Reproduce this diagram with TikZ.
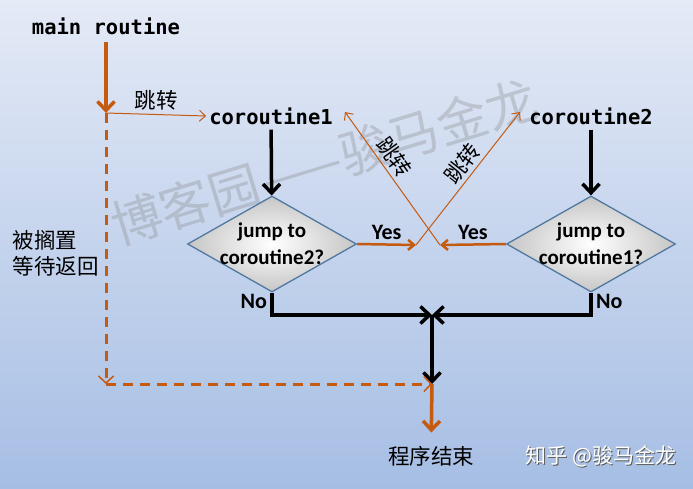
\documentclass[tikz,border=0pt]{standalone}
\usepackage{fontspec}
\setmainfont{Carlito}
\newfontfamily\cjk{Noto Sans CJK SC}
\newfontfamily\monob{DejaVu Sans Mono}
\usetikzlibrary{arrows.meta}
\usetikzlibrary{positioning}
\usetikzlibrary{shapes.geometric}
\usetikzlibrary{calc}

\definecolor{jumporange}{RGB}{197,90,17}
\definecolor{diamondedge}{RGB}{80,120,160}
\definecolor{bgtop}{RGB}{228,234,246}
\definecolor{bgbottom}{RGB}{166,190,228}

\tikzset{
    routine/.style={font=\monob\bfseries\fontsize{20.5}{22}\selectfont, inner sep=3pt},
    decision/.style={diamond, draw=diamondedge, line width=1.3pt,
        inner color=white, outer color=gray!45, aspect=1.76,
        minimum width=169pt, minimum height=96pt, inner sep=-10pt,
        font=\bfseries\fontsize{21}{27}\selectfont, align=center},
    answer/.style={font=\bfseries\fontsize{22}{22}\selectfont},
    hanzi/.style={font=\cjk\fontsize{21.5}{26}\selectfont},
    flow/.style={line width=3.5pt, -{Straight Barb[length=9pt,width=17pt]}},
    mainflow/.style={flow, draw=jumporange},
    yesflow/.style={line width=2.5pt, draw=jumporange, -{Straight Barb[length=6pt,width=10pt]}},
    jumpline/.style={line width=1pt, draw=jumporange, -{Straight Barb[length=6pt,width=11pt]}},
    waitflow/.style={line width=3pt, draw=jumporange, dash pattern=on 10pt off 7pt,
        -{Straight Barb[length=7pt,width=15pt,line width=1.5pt]}},
}

\begin{document}
\begin{tikzpicture}[x=1pt, y=-1pt]

    \shade[top color=bgtop, bottom color=bgbottom] (0,0) rectangle (693,488);
    \useasboundingbox (0,0) rectangle (693,488);

    % watermarks
    \node[font=\cjk\fontsize{51}{51}\selectfont, text=gray, opacity=0.3, rotate=17] (mark) at (324,162) {博客园——骏马金龙};
    \node[font=\cjk\fontsize{21}{21}\selectfont, text=gray!70!black] (creditshadow) at (602,457) {知乎 @骏马金龙};
    \node[font=\cjk\fontsize{21}{21}\selectfont, text=white] (credit) at (601,456) {知乎 @骏马金龙};

    \node[routine] (main) at (106,26) {main routine};
    \node[routine] (co1)  at (271,116) {coroutine1};
    \node[routine] (co2)  at (591,116) {coroutine2};

    \node[decision] (ask1) at (272,244) {jump to\\coroutine2?};
    \node[decision] (ask2) at (591,244) {jump to\\coroutine1?};

    \node[hanzi] (done) at (431,456) {程序结束};
    \node[hanzi, align=left, anchor=west] (parked) at (9,253) {被搁置\\等待返回};

    \coordinate (fork) at (106,113);
    \coordinate (wait) at (106,384);
    \coordinate (yes1) at (416,245);
    \coordinate (yes2) at (440,245);
    \coordinate (to1)  at (345,112);
    \coordinate (to2)  at (520,112);
    \coordinate (meet) at (432,315);
    \coordinate (join) at (432,384);

    \draw[mainflow, shorten <=4pt] (main) -- (fork);
    \draw[jumpline] (fork) -- node[hanzi, above] {跳转} (co1.west);

    \draw[flow, shorten <=2pt] (co1) -- (ask1);
    \draw[flow, shorten <=2pt] (co2) -- (ask2);

    \draw[yesflow] (ask1.east) -- node[answer, above] {Yes} (yes1);
    \draw[yesflow] (ask2.west) -- node[answer, above] {Yes} (yes2);
    \draw[jumpline] (yes1) -- node[hanzi, sloped, above, pos=0.55] {跳转} (to2);
    \draw[jumpline] (yes2) -- node[hanzi, sloped, above, pos=0.6] {跳转} (to1);

    \draw[flow] (ask1.south) |- node[answer, left, pos=0.2] {No} (meet);
    \draw[flow] (ask2.south) |- node[answer, right, pos=0.2] {No} (meet);
    \draw[flow] (meet) -- (join);

    \draw[waitflow] (fork) -- (wait);
    \draw[waitflow] (wait) -- (join);
    \draw[mainflow, shorten >=10pt] (join) -- (done);

\end{tikzpicture}
\end{document}
